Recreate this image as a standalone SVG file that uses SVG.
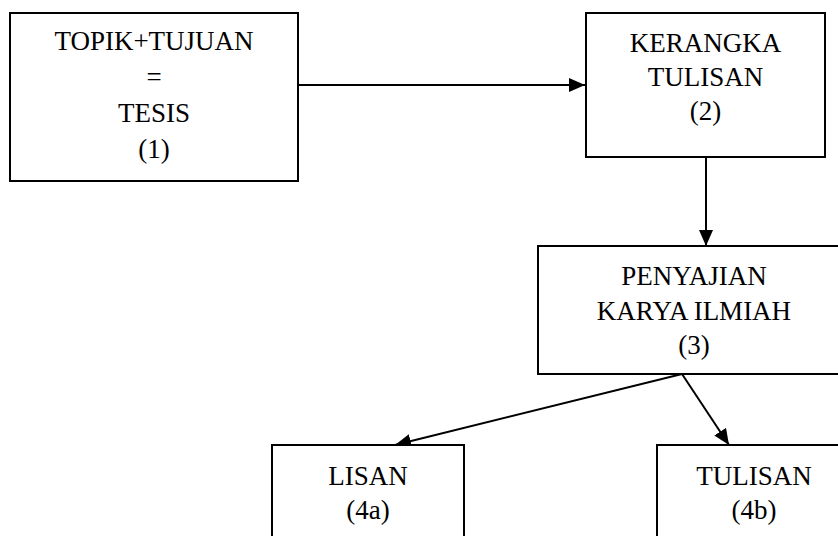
<svg xmlns="http://www.w3.org/2000/svg" width="838" height="536" viewBox="0 0 838 536">
<defs>
<marker id="ah" markerWidth="16" markerHeight="14" refX="16" refY="7" orient="auto" markerUnits="userSpaceOnUse">
<path d="M0,0 L16,7 L0,14 Z" fill="#000"/>
</marker>
<style>
.box{fill:#fff;stroke:#000;stroke-width:2}
.lbl{font-family:"Liberation Serif","Times New Roman",serif;font-size:27px;fill:#000;text-anchor:middle}
.con{stroke:#000;stroke-width:2;fill:none;marker-end:url(#ah)}
</style>
</defs>
<rect width="838" height="536" fill="#fff"/>
<g id="connectors">
<line class="con" x1="298" y1="85" x2="585" y2="85"/>
<line class="con" x1="706" y1="157" x2="706" y2="246"/>
<line class="con" x1="682" y1="374" x2="395" y2="445"/>
<line class="con" x1="682" y1="374" x2="729" y2="445"/>
</g>
<g id="node1">
<rect class="box" x="10" y="13" width="288" height="168"/>
<text class="lbl" x="154" y="50">TOPIK+TUJUAN</text>
<text class="lbl" x="154" y="86">=</text>
<text class="lbl" x="154" y="122">TESIS</text>
<text class="lbl" x="154" y="158">(1)</text>
</g>
<g id="node2">
<rect class="box" x="586" y="13" width="239" height="144"/>
<text class="lbl" x="705.5" y="52">KERANGKA</text>
<text class="lbl" x="705.5" y="86">TULISAN</text>
<text class="lbl" x="705.5" y="120">(2)</text>
</g>
<g id="node3">
<rect class="box" x="538" y="246" width="320" height="128"/>
<text class="lbl" x="694" y="285">PENYAJIAN</text>
<text class="lbl" x="694" y="320">KARYA ILMIAH</text>
<text class="lbl" x="694" y="354">(3)</text>
</g>
<g id="node4a">
<rect class="box" x="272" y="445" width="192" height="110"/>
<text class="lbl" x="368" y="485">LISAN</text>
<text class="lbl" x="368" y="519">(4a)</text>
</g>
<g id="node4b">
<rect class="box" x="657" y="445" width="200" height="110"/>
<text class="lbl" x="754" y="485">TULISAN</text>
<text class="lbl" x="754" y="519">(4b)</text>
</g>
</svg>
